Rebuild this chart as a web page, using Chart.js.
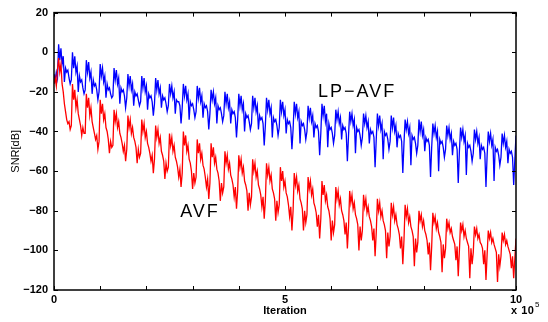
<!DOCTYPE html>
<html>
<head>
<meta charset="utf-8">
<script src="https://cdn.jsdelivr.net/npm/chart.js@4"></script>
<style>
  html, body { margin: 0; padding: 0; background: #fff; }
  #wrap { width: 548px; height: 322px; }
</style>
</head>
<body>
<div id="wrap"><canvas id="c" width="548" height="322"></canvas></div>
<script>
// samples every 2500 iterations, x axis shown in units of 1e5
const iterStep = 2500;

// AVF (red), one row per adaptation cycle
const avf = [
  -16, -13, -17, -9,
  -3, -10, -6, -16, -20, -26, -30, -34, -36, -35, -39, -37,
  -16, -24, -19, -28, -24, -31, -34, -37, -42, -38, -41, -41,
  -21, -28, -23, -32, -28, -35, -38, -41, -44, -42, -49, -45,
  -24, -31, -26, -34, -31, -38, -40, -44, -51, -45, -48, -47,
  -29, -35, -31, -38, -35, -41, -43, -46, -50, -47, -55, -49,
  -32, -38, -34, -41, -38, -43, -45, -48, -56, -49, -53, -51,
  -34, -40, -36, -43, -40, -46, -48, -51, -55, -52, -61, -54,
  -37, -43, -39, -46, -43, -50, -52, -55, -64, -56, -60, -58,
  -41, -47, -43, -50, -47, -53, -55, -58, -63, -59, -68, -61,
  -40, -47, -42, -50, -47, -54, -56, -60, -69, -61, -66, -63,
  -44, -51, -46, -54, -51, -57, -59, -63, -68, -64, -74, -66,
  -46, -53, -48, -56, -53, -59, -61, -65, -75, -66, -71, -68,
  -50, -56, -52, -59, -56, -62, -64, -67, -73, -68, -79, -70,
  -52, -58, -54, -61, -58, -65, -67, -70, -80, -71, -77, -73,
  -54, -60, -56, -63, -60, -67, -69, -72, -78, -73, -84, -75,
  -56, -62, -58, -65, -62, -69, -71, -74, -85, -75, -81, -77,
  -58, -65, -60, -68, -65, -71, -73, -77, -83, -78, -90, -80,
  -61, -67, -63, -70, -67, -74, -76, -79, -90, -80, -86, -82,
  -63, -69, -65, -72, -69, -76, -78, -81, -88, -82, -94, -84,
  -65, -72, -67, -75, -72, -78, -80, -84, -95, -85, -91, -87,
  -68, -74, -70, -77, -74, -80, -82, -85, -92, -86, -99, -88,
  -70, -76, -72, -79, -76, -82, -84, -87, -100, -88, -95, -90,
  -72, -78, -74, -81, -78, -83, -85, -88, -95, -89, -103, -91,
  -74, -80, -76, -83, -80, -85, -87, -90, -104, -91, -98, -93,
  -76, -82, -78, -85, -82, -87, -89, -92, -99, -93, -107, -95,
  -77, -83, -79, -86, -83, -88, -90, -93, -108, -94, -101, -96,
  -80, -85, -82, -88, -85, -90, -92, -95, -102, -96, -110, -98,
  -81, -86, -83, -89, -86, -91, -93, -96, -111, -97, -104, -99,
  -84, -89, -86, -91, -89, -93, -95, -97, -105, -98, -113, -100,
  -86, -90, -87, -93, -90, -94, -96, -98, -114, -99, -107, -101,
  -88, -92, -89, -94, -92, -96, -97, -99, -107, -100, -115, -102,
  -90, -94, -91, -96, -94, -97, -99, -101, -116, -102, -108, -103,
  -91, -95, -92, -97, -95, -98, -100, -102, -109, -103, -114, -104,
  -94
];

// LP-AVF (blue)
const lpAvf = [
  -11, -14, -10, -13,
  4, -4, 2, -6, -2, -15, -8, -10, -9, -13, -16, -14,
  0, -8, -2, -10, -7, -20, -12, -15, -14, -18, -21, -19,
  -4, -10, -5, -13, -10, -21, -14, -17, -16, -19, -24, -20,
  -6, -12, -8, -15, -12, -23, -16, -19, -18, -21, -23, -22,
  -8, -14, -9, -16, -13, -26, -18, -20, -19, -22, -28, -23,
  -11, -17, -12, -19, -16, -27, -20, -22, -21, -24, -27, -25,
  -12, -18, -13, -20, -17, -29, -21, -23, -22, -25, -32, -26,
  -13, -19, -14, -21, -18, -28, -22, -24, -23, -26, -30, -27,
  -16, -21, -17, -23, -20, -31, -24, -25, -25, -27, -36, -28,
  -16, -22, -17, -24, -21, -34, -25, -27, -26, -29, -33, -30,
  -17, -23, -18, -25, -22, -33, -26, -28, -27, -30, -39, -31,
  -19, -24, -20, -26, -23, -36, -27, -29, -28, -31, -35, -32,
  -20, -26, -21, -28, -25, -36, -29, -31, -30, -33, -43, -34,
  -21, -27, -22, -29, -26, -40, -31, -33, -32, -35, -39, -36,
  -22, -28, -23, -30, -27, -39, -32, -34, -33, -36, -47, -37,
  -23, -29, -24, -31, -28, -43, -33, -35, -34, -37, -42, -38,
  -24, -30, -25, -32, -29, -41, -34, -36, -35, -38, -49, -39,
  -25, -31, -26, -33, -30, -46, -35, -37, -36, -39, -44, -40,
  -27, -33, -28, -35, -32, -43, -36, -38, -37, -40, -52, -41,
  -26, -32, -27, -35, -31, -48, -36, -39, -38, -41, -46, -42,
  -29, -34, -30, -36, -33, -44, -37, -39, -38, -41, -55, -42,
  -30, -35, -31, -37, -34, -51, -38, -40, -39, -42, -47, -43,
  -31, -36, -32, -38, -35, -46, -39, -41, -40, -43, -58, -44,
  -31, -37, -32, -39, -36, -54, -40, -42, -41, -44, -49, -45,
  -32, -38, -33, -40, -37, -48, -41, -43, -42, -45, -61, -46,
  -34, -39, -35, -41, -38, -57, -42, -44, -43, -46, -51, -47,
  -34, -40, -35, -42, -39, -50, -43, -45, -44, -47, -63, -48,
  -36, -41, -37, -43, -40, -60, -44, -46, -45, -48, -53, -49,
  -37, -42, -38, -44, -41, -52, -45, -47, -46, -49, -66, -50,
  -38, -43, -39, -45, -42, -62, -46, -48, -47, -50, -55, -51,
  -39, -44, -40, -46, -43, -54, -47, -49, -48, -51, -68, -52,
  -40, -45, -41, -47, -44, -65, -48, -50, -49, -52, -57, -53,
  -41, -46, -42, -48, -45, -56, -49, -51, -50, -53, -67, -54,
  -42
];

const xLabels = [0, 5, 10];
const yTicks = [20, 0, -20, -40, -60, -80, -100, -120];

const FONT = "'Liberation Sans', Arial, Helvetica, sans-serif";

const toPoints = arr => arr.map((v, i) => ({ x: i * iterStep / 1e5, y: v }));

// box, inward tick marks, curve labels and the exponent
const framePlugin = {
  id: 'frame',
  afterDraw(chart) {
    const { ctx, chartArea: a, scales: { x, y } } = chart;
    ctx.save();
    ctx.strokeStyle = '#000';
    ctx.lineWidth = 1;
    ctx.beginPath();
    for (let v = 0; v <= 10; v++) {
      const px = Math.round(x.getPixelForValue(v)) + 0.5;
      ctx.moveTo(px, a.bottom); ctx.lineTo(px, a.bottom - 4);
      ctx.moveTo(px, a.top); ctx.lineTo(px, a.top + 4);
    }
    yTicks.forEach(v => {
      const py = Math.round(y.getPixelForValue(v)) + 0.5;
      ctx.moveTo(a.left, py); ctx.lineTo(a.left + 4, py);
      ctx.moveTo(a.right, py); ctx.lineTo(a.right - 4, py);
    });
    ctx.stroke();
    ctx.lineWidth = 1.5;
    ctx.strokeRect(a.left, a.top, a.right - a.left, a.bottom - a.top);

    ctx.fillStyle = '#000';
    ctx.textAlign = 'center';
    ctx.textBaseline = 'middle';
    ctx.letterSpacing = '2px';
    ctx.font = '18px ' + FONT;
    ctx.fillText('LP\u2212AVF', x.getPixelForValue(6.56), y.getPixelForValue(-20.2));
    ctx.fillText('AVF', x.getPixelForValue(3.16), y.getPixelForValue(-80.8));

    ctx.textAlign = 'left';
    ctx.textBaseline = 'alphabetic';
    ctx.letterSpacing = '0.5px';
    ctx.font = 'bold 11px ' + FONT;
    ctx.fillText('x 10', 511, 314);
    ctx.font = '8px ' + FONT;
    ctx.fillText('5', 535, 307);
    ctx.restore();
  }
};

const ctx = document.getElementById('c').getContext('2d');
ctx.letterSpacing = '0.5px'; // the original labels are set loosely

new Chart(ctx, {
  type: 'line',
  data: {
    datasets: [
      {
        label: 'AVF',
        data: toPoints(avf),
        borderColor: '#ff0000',
        borderWidth: 1.3,
        pointRadius: 0,
        tension: 0
      },
      {
        label: 'LP-AVF',
        data: toPoints(lpAvf),
        borderColor: '#0000ff',
        borderWidth: 1.3,
        pointRadius: 0,
        tension: 0
      }
    ]
  },
  options: {
    responsive: false,
    animation: false,
    layout: { padding: { top: 8, right: 32, left: 0, bottom: 0 } },
    plugins: {
      legend: { display: false },
      tooltip: { enabled: false }
    },
    scales: {
      x: {
        type: 'linear',
        min: 0,
        max: 10,
        afterFit: s => { s.height = 32; },
        grid: { display: false, drawTicks: false },
        border: { display: false },
        ticks: {
          stepSize: 1,
          autoSkip: false,
          maxRotation: 0,
          padding: 3,
          color: '#000',
          font: { family: FONT, size: 11, weight: 'bold' },
          callback: v => (xLabels.includes(v) ? String(v) : '')
        },
        title: {
          display: true,
          text: 'Iteration',
          color: '#000',
          font: { family: FONT, size: 11, weight: 'bold' },
          padding: { top: 0, bottom: 4 }
        }
      },
      y: {
        min: -120,
        max: 20,
        afterFit: s => { s.width = 54; },
        grid: { display: false, drawTicks: false },
        border: { display: false },
        ticks: {
          stepSize: 20,
          padding: 6,
          color: '#000',
          font: { family: FONT, size: 11, weight: 'bold' },
          callback: v => (v < 0 ? '\u2212' + Math.abs(v) : String(v))
        },
        title: {
          display: true,
          text: 'SNR[dB]',
          color: '#000',
          font: { family: FONT, size: 11 },
          padding: { top: 9, bottom: 0 }
        }
      }
    }
  },
  plugins: [framePlugin]
});
</script>
</body>
</html>
